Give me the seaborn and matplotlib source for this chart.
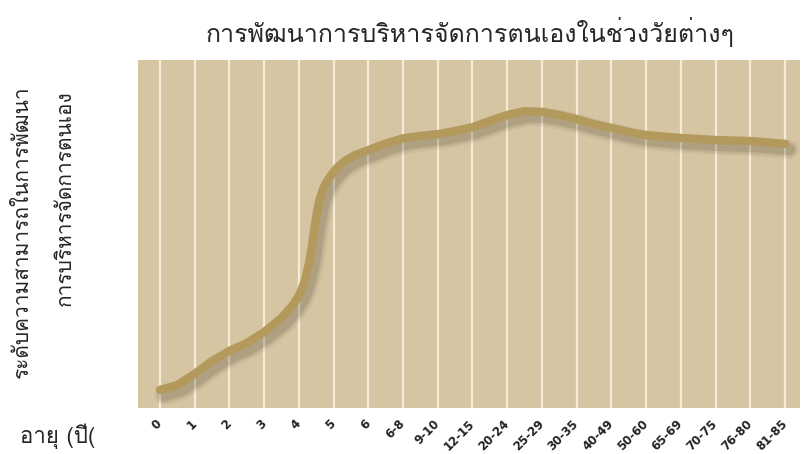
import matplotlib
matplotlib.use("Agg")
import matplotlib.pyplot as plt
import matplotlib.patheffects as pe
from matplotlib import font_manager
from matplotlib.ft2font import FT2Font
import seaborn as sns

# age groups on the x axis
age_groups = ["0", "1", "2", "3", "4", "5", "6", "6-8", "9-10", "12-15",
              "20-24", "25-29", "30-35", "40-49", "50-60", "65-69",
              "70-75", "76-80", "81-85"]

# curve (position in category units, level 0-100)
curve_pos = [0, 0.5, 1, 1.5, 2, 2.5, 3, 3.5, 3.83, 4, 4.1, 4.2, 4.3, 4.38,
             4.45, 4.52, 4.6, 4.7, 4.8, 4.95, 5.1, 5.3, 5.6, 6, 6.5, 7, 7.5,
             8, 8.5, 9, 9.5, 10, 10.5, 11, 11.5, 12, 12.5, 13, 13.5, 14, 15,
             16, 17, 18]
curve_level = [5.2, 6.6, 9.8, 13.5, 16.4, 18.7, 21.8, 25.9, 29.6, 32.3,
               34.5, 37.5, 41.8, 46.5, 51.5, 56.0, 60.0, 63.0, 65.0, 67.2,
               69.0, 70.8, 72.6, 74.1, 76.0, 77.5, 78.2, 78.7, 79.6, 80.7,
               82.5, 84.2, 85.3, 85.1, 84.2, 83.0, 81.6, 80.5, 79.3, 78.4,
               77.6, 77.0, 76.7, 75.9]

title = "การพัฒนาการบริหารจัดการตนเองในช่วงวัยต่างๆ"
ylabel_1 = "ระดับความสามารถในการพัฒนา"
ylabel_2 = "การบริหารจัดการตนเอง"
xlabel = "อายุ (ปี("


# Function to find an installed font that has Thai glyphs
def find_thai_font():
    for f in font_manager.fontManager.ttflist:
        try:
            if 0x0E01 in FT2Font(f.fname).get_charmap():
                return f.name
        except Exception:
            pass
    return "DejaVu Sans"


sns.set_style("white")
thai_font = find_thai_font()
plt.rcParams['font.family'] = [thai_font, 'DejaVu Sans']

fig = plt.figure(figsize=(8.01, 4.54), dpi=100)
ax = fig.add_axes([138 / 801, 46 / 454, 662 / 801, 348 / 454])
ax.set_facecolor("#d5c5a3")

# soft shadow built from a few wide, faint strokes
shadow = [pe.SimpleLineShadow(offset=(3, -4), shadow_color="#4a3f2c", alpha=a, linewidth=w)
          for a, w in [(0.06, 14), (0.09, 11), (0.14, 8)]]
sns.lineplot(x=curve_pos, y=curve_level, ax=ax, color="#b39a5c",
             linewidth=6, solid_capstyle="round", solid_joinstyle="round",
             path_effects=shadow + [pe.Normal()])

ax.set_xlim(-0.63, 18.43)
ax.set_ylim(0, 100)
ax.set_xticks(range(len(age_groups)))
ax.set_xticklabels(age_groups, rotation=45, ha="right", va="center",
                   rotation_mode="anchor", fontsize=8.5, fontweight="bold",
                   color="#222222", family="DejaVu Sans")
ax.set_yticks([])
ax.xaxis.grid(True, color="#f6ecd6", linewidth=1.6)
ax.yaxis.grid(False)
ax.tick_params(axis="x", length=7, color="#ece6dc", pad=3)
for s in ax.spines.values():
    s.set_visible(False)
ax.set_xlabel("")
ax.set_ylabel("")

fig.text(470 / 801, 1 - 32 / 454, title, ha="center", va="center", fontsize=18)
fig.text(22 / 801, 1 - 232 / 454, ylabel_1, rotation=90, ha="center", va="center", fontsize=15)
fig.text(65 / 801, 1 - 198 / 454, ylabel_2, rotation=90, ha="center", va="center", fontsize=15)
fig.text(20 / 801, 1 - 436 / 454, xlabel, ha="left", va="center", fontsize=16)

fig.savefig("out.png", dpi=100)
